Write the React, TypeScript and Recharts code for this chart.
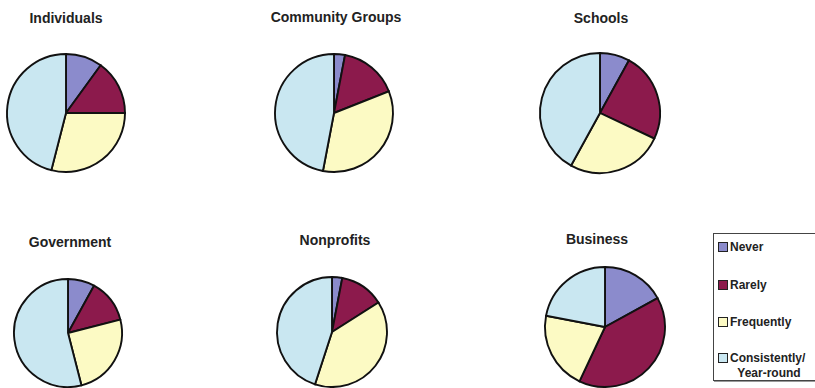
import React from 'react';
import { PieChart, Pie, Cell } from 'recharts';

const levels = ['Never', 'Rarely', 'Frequently', 'Consistently/ Year-round'];
const groupNames = ['Individuals', 'Community Groups', 'Schools', 'Government', 'Nonprofits', 'Business'];

const individuals = [10, 15, 29, 46];
const communityGroups = [3, 16, 34, 47];
const schools = [8, 24, 26, 42];
const government = [8, 13, 25, 54];
const nonprofits = [3, 13, 39, 45];
const business = [17, 40, 21, 22];

const groupValues = [individuals, communityGroups, schools, government, nonprofits, business];

const COLORS = ['#8b8bcc', '#8c1a4c', '#fcfac4', '#c9e7f1'];

// layout only
const pieLayout = [
  { cx: 66, cy: 113, r: 59, tx: 66, ty: 10 },
  { cx: 334, cy: 113, r: 59, tx: 336, ty: 9 },
  { cx: 600, cy: 113, r: 60, tx: 601, ty: 10 },
  { cx: 68, cy: 333, r: 54, tx: 70, ty: 234 },
  { cx: 332, cy: 332, r: 55, tx: 335, ty: 232 },
  { cx: 605, cy: 327, r: 60, tx: 597, ty: 231 },
];

const FONT = '"Liberation Sans", Arial, sans-serif';

export default function App() {
  const datasets = groupValues.map((vals) =>
    vals.map((v, i) => ({ name: levels[i], value: v }))
  );
  const legendRows = [
    { text: 'Never', top: 240, icon: 0 },
    { text: 'Rarely', top: 278, icon: 1 },
    { text: 'Frequently', top: 314.5, icon: 2 },
    { text: 'Consistently/', top: 350.5, icon: 3 },
  ];
  return (
    <div style={{ position: 'absolute', left: 0, top: 0, width: 815, height: 388, overflow: 'hidden', background: '#fff' }}>
      <PieChart width={815} height={388} margin={{ top: 0, right: 0, bottom: 0, left: 0 }}>
        {datasets.map((data, gi) => (
          <Pie
            key={groupNames[gi]}
            data={data}
            dataKey="value"
            nameKey="name"
            cx={pieLayout[gi].cx}
            cy={pieLayout[gi].cy}
            outerRadius={pieLayout[gi].r}
            innerRadius={0}
            startAngle={90}
            endAngle={-270}
            stroke="#111"
            strokeWidth={1.9}
            isAnimationActive={false}
            label={false}
            labelLine={false}
          >
            {data.map((d, i) => (
              <Cell key={d.name} fill={COLORS[i]} stroke="#111" strokeWidth={1.9} />
            ))}
          </Pie>
        ))}
      </PieChart>
      {groupNames.map((name, gi) => (
        <div
          key={name}
          style={{
            position: 'absolute',
            left: pieLayout[gi].tx - 100,
            top: pieLayout[gi].ty,
            width: 200,
            textAlign: 'center',
            fontFamily: FONT,
            fontWeight: 'bold',
            fontSize: 14,
            lineHeight: '16px',
            color: '#222',
          }}
        >
          {name}
        </div>
      ))}
      <div
        style={{
          position: 'absolute',
          left: 713,
          top: 233,
          width: 110,
          height: 146,
          border: '1px solid #444',
          boxShadow: '1px 1px 0 #999',
          background: '#fff',
        }}
      />
      {legendRows.map((row) => (
        <div
          key={row.text}
          style={{
            position: 'absolute',
            left: 718,
            top: row.top,
            height: 14,
            display: 'flex',
            alignItems: 'center',
            fontFamily: FONT,
            fontWeight: 'bold',
            fontSize: 12,
            lineHeight: '14px',
            color: '#222',
            whiteSpace: 'nowrap',
          }}
        >
          <span
            style={{
              display: 'inline-block',
              width: 8,
              height: 8,
              border: '1.5px solid #222',
              background: COLORS[row.icon],
              marginRight: 2,
            }}
          />
          {row.text}
        </div>
      ))}
      <div
        style={{
          position: 'absolute',
          left: 730,
          top: 365.5,
          width: 78,
          textAlign: 'center',
          fontFamily: FONT,
          fontWeight: 'bold',
          fontSize: 12,
          lineHeight: '14px',
          color: '#222',
          whiteSpace: 'nowrap',
        }}
      >
        Year-round
      </div>
    </div>
  );
}
